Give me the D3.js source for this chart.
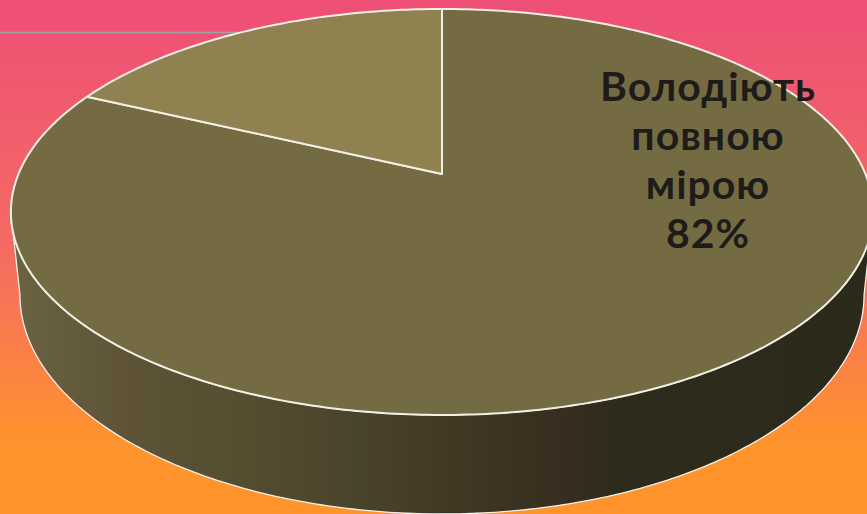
<!DOCTYPE html>
<html><head><meta charset="utf-8">
<script src="https://cdn.jsdelivr.net/npm/d3@7"></script>
<style>html,body{margin:0;padding:0;overflow:hidden;background:#fff}svg{display:block}</style>
</head><body>
<svg id="c" width="867" height="514"></svg>
<script>
const sliceNames = ["Володіють повною мірою", "Інше"];
const sliceValues = [18, 82];
const sliceOrder = [1, 0];
const labelLines = ["Володіють", "повною", "мірою", "82%"];
const bgStops = [[0, "#ee4f76"], [0.5, "#f56c62"], [0.86, "#ff932d"], [1, "#ff942b"]];
const sideStops = [[11, "#6b6443"], [60, "#655c3d"], [130, "#5e5337"], [230, "#554e30"], [360, "#4a432c"], [480, "#3f3522"], [560, "#382e1f"], [620, "#2e2b1b"], [867, "#2b2a1a"]];

const W = 867, H = 514;
const svg = d3.select("#c");
const defs = svg.append("defs");
const bg = defs.append("linearGradient").attr("id", "bg").attr("x1", 0).attr("x2", 0).attr("y1", 0).attr("y2", 1);
bgStops.forEach(s => bg.append("stop").attr("offset", s[0]).attr("stop-color", s[1]));
const xGrad = d3.scaleLinear().domain([0, W]).range([0, 1]);
const sg = defs.append("linearGradient").attr("id", "side").attr("gradientUnits", "userSpaceOnUse")
  .attr("x1", 0).attr("x2", W).attr("y1", 0).attr("y2", 0);
sideStops.forEach(s => sg.append("stop").attr("offset", xGrad(s[0])).attr("stop-color", s[1]));

svg.append("rect").attr("width", W).attr("height", H).attr("fill", "url(#bg)");
svg.append("line").attr("x1", 0).attr("x2", 250).attr("y1", 32.5).attr("y2", 32.5)
  .attr("stroke", "#a3a2a0").attr("stroke-width", 1.5);

// perspective projection of a unit disc onto the screen
const CX = 442, CY = 174, K = -0.187, A = 195.9, C = 423.5;
function project(theta, sx, sy, oy) {
  const u = Math.sin(theta), v = -Math.cos(theta), w = 1 + K * v;
  return [CX + sx * C * u / w, CY + oy + sy * A * v / w];
}
const top_ = t => project(t, 1, 1, 0);
const low = t => project(t, 0.979, 1.079, 80);
const line = d3.line();

function sector(a0, a1) {
  const n = Math.max(2, Math.ceil((a1 - a0) * 80));
  const pts = d3.range(n + 1).map(i => top_(a0 + (a1 - a0) * i / n));
  return line([[CX, CY], ...pts]) + "Z";
}

// Side wall: front half of the rim between the silhouette tangents
const tA = Math.PI - Math.acos(0.187), tB = Math.PI + Math.acos(0.187);
const m = 240;
const rimTop = d3.range(m + 1).map(i => top_(tA + (tB - tA) * i / m));
const rimLow = d3.range(m + 1).map(i => low(tA + (tB - tA) * i / m));
svg.append("path").attr("d", line([...rimTop, ...rimLow.slice().reverse()]) + "Z")
  .attr("fill", "url(#side)").attr("stroke", "#f4f2ea").attr("stroke-width", 1.3).attr("stroke-linejoin", "round");

// Top face
const arcs = d3.pie().sort(null).value((d, i) => sliceValues[sliceOrder[i]])(sliceOrder);
const fills = ["#756b42", "#8f8250"];
svg.selectAll("path.slice").data(arcs).join("path").attr("class", "slice")
  .attr("d", d => sector(d.startAngle, d.endAngle))
  .attr("fill", (d, i) => fills[i])
  .attr("stroke", "#f1efe6").attr("stroke-width", 2).attr("stroke-linejoin", "round");

svg.append("g").selectAll("text").data(labelLines).join("text")
  .attr("x", 708).attr("y", (d, i) => 101 + i * 49)
  .attr("text-anchor", "middle").attr("fill", "#1d1c1a")
  .attr("font-family", "Lato, 'Open Sans', sans-serif").attr("font-weight", 700).attr("font-size", 41)
  .attr("letter-spacing", 1)
  .text(d => d);
</script>
</body></html>
